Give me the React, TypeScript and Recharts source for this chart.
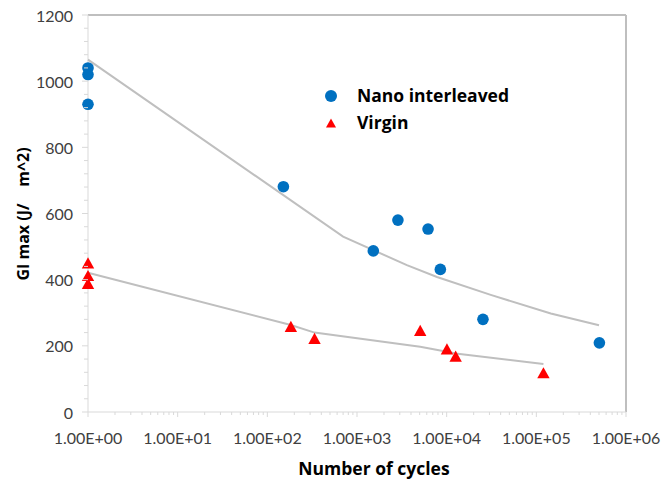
import React from "react";
import {
  ScatterChart,
  Scatter,
  XAxis,
  YAxis,
  ReferenceLine,
  Legend,
  Label,
} from "recharts";

// measured points
const NANO_CYCLES = [1, 1, 1, 151, 1520, 2860, 6200, 8500, 25400, 505000];
const NANO_GI = [1040, 1020, 930, 681, 487, 580, 553, 431, 280, 209];
const VIRGIN_CYCLES = [1, 1, 1, 183, 336, 5070, 10070, 12600, 120000];
const VIRGIN_GI = [450, 412, 388, 258, 222, 246, 190, 168, 118];

// trend lines
const NANO_FIT_CYCLES = [1, 700, 3600, 7800, 31000, 145000, 500000];
const NANO_FIT_GI = [1065, 530, 444, 408, 354, 298, 262];
const VIRGIN_FIT_CYCLES = [1, 183, 336, 5070, 10070, 12600, 120000];
const VIRGIN_FIT_GI = [421, 263, 240, 197, 182, 177, 145];

const X_MAJOR = [1, 10, 100, 1000, 10000, 100000, 1000000];
const Y_MAJOR = [0, 200, 400, 600, 800, 1000, 1200];

const X_TICKS: number[] = [];
X_MAJOR.forEach((d, i) => {
  X_TICKS.push(d);
  if (i < X_MAJOR.length - 1) for (let m = 2; m <= 9; m++) X_TICKS.push(d * m);
});
const Y_TICKS: number[] = [];
for (let v = 0; v <= 1200; v += 40) Y_TICKS.push(v);

const TICK_FONT = "Lato, sans-serif";
const TITLE_FONT = "'Open Sans', sans-serif";
const BLUE = "#0070C0";
const RED = "#FF0000";
const AXIS = "#d9d9d9";
const TREND = "#bfbfbf";

const pairs = (xs: number[], ys: number[]) => xs.map((x, i) => ({ x, y: ys[i] }));

const nano = pairs(NANO_CYCLES, NANO_GI);
const virgin = pairs(VIRGIN_CYCLES, VIRGIN_GI);
const nanoFit = pairs(NANO_FIT_CYCLES, NANO_FIT_GI);
const virginFit = pairs(VIRGIN_FIT_CYCLES, VIRGIN_FIT_GI);

const sci = (v: number) => {
  const e = Math.round(Math.log10(v));
  const m = v / Math.pow(10, e);
  return `${m.toFixed(2)}E${e < 0 ? "-" : "+"}${String(Math.abs(e)).padStart(2, "0")}`;
};

const XTick = ({ x, y, payload }: any) => {
  const major = X_MAJOR.includes(payload.value);
  return (
    <g>
      <line x1={x} x2={x} y1={y} y2={y + (major ? 5 : 3)} stroke={AXIS} />
      {major && (
        <text x={x} y={y + 25} textAnchor="middle" dominantBaseline="central"
          fontFamily={TICK_FONT} fontSize={16} fill="#404040">
          {sci(payload.value)}
        </text>
      )}
    </g>
  );
};

const YTick = ({ x, y, payload }: any) => {
  const major = Y_MAJOR.includes(payload.value);
  return (
    <g>
      <line x1={x - (major ? 6 : 4)} x2={x} y1={y} y2={y} stroke={AXIS} />
      {major && (
        <text x={x - 15} y={y} textAnchor="end" dominantBaseline="central"
          fontFamily={TICK_FONT} fontSize={16} fill="#404040">
          {payload.value}
        </text>
      )}
    </g>
  );
};

const Dot = (p: any) => <circle cx={p.cx} cy={p.cy} r={5.8} fill={BLUE} />;
const Tri = (p: any) => (
  <path
    d={`M${p.cx},${p.cy - 5.8}L${p.cx + 6.2},${p.cy + 5.4}L${p.cx - 6.2},${p.cy + 5.4}Z`}
    fill={RED}
  />
);
const None = () => <g />;

const LegendBox = () => (
  <div style={{ fontFamily: TITLE_FONT, fontWeight: 700, fontSize: 17.5, color: "#000", lineHeight: "27px" }}>
    <div style={{ display: "flex", alignItems: "center" }}>
      <svg width={14} height={14}><circle cx={7} cy={7} r={6} fill={BLUE} /></svg>
      <span style={{ marginLeft: 19 }}>Nano interleaved</span>
    </div>
    <div style={{ display: "flex", alignItems: "center" }}>
      <svg width={14} height={14}><path d="M7,2.5L12,11.5L2,11.5Z" fill={RED} /></svg>
      <span style={{ marginLeft: 19 }}>Virgin</span>
    </div>
  </div>
);

export default function App() {
  return (
    <div style={{ position: "absolute", left: 0, top: 0, width: 663, height: 481, background: "#fff", overflow: "hidden" }}>
      <ScatterChart width={663} height={481} margin={{ top: 15, right: 37, bottom: 0, left: 0 }}>
        <XAxis
          type="number"
          dataKey="x"
          scale="log"
          domain={[1, 1000000]}
          ticks={X_TICKS}
          interval={0}
          tick={<XTick />}
          tickLine={false}
          tickSize={0}
          tickMargin={0}
          height={69}
          axisLine={{ stroke: AXIS }}
        >
          <Label
            content={() => (
              <text x={374} y={468} textAnchor="middle" dominantBaseline="central"
                fontFamily={TITLE_FONT} fontWeight={700} fontSize={17.5} fill="#000">
                Number of cycles
              </text>
            )}
          />
        </XAxis>
        <YAxis
          type="number"
          dataKey="y"
          domain={[0, 1200]}
          ticks={Y_TICKS}
          interval={0}
          tick={<YTick />}
          tickLine={false}
          tickSize={0}
          tickMargin={0}
          width={88}
          axisLine={{ stroke: AXIS }}
        >
          <Label
            content={() => (
              <text x={23} y={214} transform="rotate(-90 23 214)" textAnchor="middle"
                dominantBaseline="central" fontFamily={TITLE_FONT} fontWeight={700} fontSize={16}
                fill="#000" xmlSpace="preserve" style={{ whiteSpace: "pre" }}>
                {"GI max (J/    m^2)"}
              </text>
            )}
          />
        </YAxis>
        <ReferenceLine y={1200} stroke={TREND} strokeWidth={2} />
        <ReferenceLine x={1000000} stroke={TREND} strokeWidth={2} />
        <Legend
          layout="vertical"
          align="center"
          verticalAlign="middle"
          content={<LegendBox />}
          wrapperStyle={{ left: 324, top: 82, width: "auto" }}
        />
        <Scatter data={nanoFit} line={{ stroke: TREND, strokeWidth: 2 }} shape={<None />}
          isAnimationActive={false} legendType="none" />
        <Scatter data={virginFit} line={{ stroke: TREND, strokeWidth: 2 }} shape={<None />}
          isAnimationActive={false} legendType="none" />
        <Scatter name="Nano interleaved" data={nano} shape={<Dot />} isAnimationActive={false} />
        <Scatter name="Virgin" data={virgin} shape={<Tri />} isAnimationActive={false} />
      </ScatterChart>
    </div>
  );
}
